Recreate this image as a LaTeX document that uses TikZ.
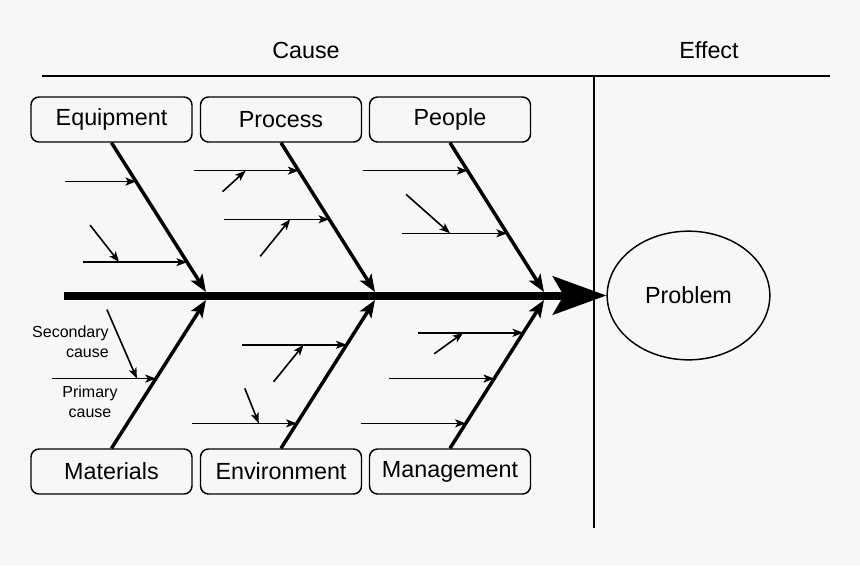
\documentclass[tikz,border=0pt]{standalone}
\usepackage{fontspec}
\setmainfont{Liberation Sans}
\usetikzlibrary{arrows.meta,calc,shapes.geometric}
\definecolor{paper}{HTML}{F7F7F7}
\tikzset{
  category/.style={draw, rounded corners=6pt, line width=1.1pt, minimum width=120.75pt, minimum height=33.75pt, inner sep=0pt, font=\fontsize{17.5}{21}\selectfont},
  heading/.style={font=\fontsize{17.5}{21}\selectfont},
  note/.style={font=\fontsize{12}{15}\selectfont, inner sep=0pt},
  bone/.style={line width=2.6pt, -{Stealth[length=13pt,width=10pt,inset=3pt]}},
  primary/.style={line width=1.2pt, -{Stealth[length=8pt,width=6pt,inset=2pt]}},
  secondary/.style={primary}
}
\begin{document}
\begin{tikzpicture}[x=0.75pt,y=-0.75pt]
\fill[paper] (0,0) rectangle (860,565);
\useasboundingbox (0,0) rectangle (860,565);

\node[heading] (cause) at (306,50) {Cause};
\node[heading] (effect) at (709,50) {Effect};
\draw[line width=1.1pt] (42,76) -- (830,76);
\draw[line width=1.1pt] (594,76) -- (594,528);

\node[draw, ellipse, line width=1.1pt, minimum width=122pt, minimum height=96.5pt, inner sep=0pt, heading] (problem) at (688.5,295.5) {\raisebox{-1.5pt}{Problem}};
\coordinate (tail) at (64,295.5);
\draw[line width=6pt, -{Stealth[length=40pt,width=28.5pt,inset=8pt]}] (tail) -- (problem.west);

\node[category] (equip) at (111.5,119.5) {Equipment};
\node[category] (process) at (281,119.5) {Process};
\node[category] (people) at (450,119.5) {People};
\node[category] (materials) at (111.5,471.5) {Materials};
\node[category] (environ) at (281,471.5) {Environment};
\node[category] (manage) at (450,471.5) {Management};

\coordinate (eqtip) at (206,292);
\coordinate (prtip) at (375,292);
\coordinate (petip) at (544,292);
\coordinate (matip) at (206,300);
\coordinate (entip) at (375,300);
\coordinate (mgtip) at (544,300);

\draw[bone] (equip.south) -- (eqtip);
\draw[bone] (process.south) -- (prtip);
\draw[bone] (people.south) -- (petip);
\draw[bone] (materials.north) -- (matip);
\draw[bone] (environ.north) -- (entip);
\draw[bone] (manage.north) -- (mgtip);

\coordinate (eq1) at ($(equip.south)!.26!(eqtip)$);
\coordinate (eq2) at ($(equip.south)!.80!(eqtip)$);
\draw[primary] ($(eq1)+(-71,0)$) -- (eq1);
\draw[primary] ($(eq2)+(-104,0)$) -- (eq2);
\draw[secondary] ($(eq2)+(-97,-37)$) -- ($(eq2)+(-68,0)$);

\coordinate (pr1) at ($(process.south)!.187!(prtip)$);
\coordinate (pr2) at ($(process.south)!.513!(prtip)$);
\draw[primary] ($(pr1)+(-105,0)$) -- (pr1);
\draw[primary] ($(pr2)+(-105,0)$) -- (pr2);
\draw[secondary] ($(pr1)+(-76,21)$) -- ($(pr1)+(-53,0)$);
\draw[secondary] ($(pr2)+(-69,37)$) -- ($(pr2)+(-39,0)$);

\coordinate (pe1) at ($(people.south)!.187!(petip)$);
\coordinate (pe2) at ($(people.south)!.607!(petip)$);
\draw[primary] ($(pe1)+(-105,0)$) -- (pe1);
\draw[primary] ($(pe2)+(-105,0)$) -- (pe2);
\draw[secondary] ($(pe2)+(-101,-39)$) -- ($(pe2)+(-57,0)$);

\coordinate (ma1) at ($(materials.north)!.47!(matip)$);
\draw[primary] ($(ma1)+(-104,0)$) -- (ma1);
\draw[secondary] ($(ma1)+(-49,-69)$) -- ($(ma1)+(-19,0)$);
\node[note, align=right, anchor=east] (seclabel) at (109,342) {Secondary\\cause};
\node[note, align=center] (primlabel) at (90,402) {Primary\\cause};

\coordinate (en1) at ($(environ.north)!.698!(entip)$);
\coordinate (en2) at ($(environ.north)!.168!(entip)$);
\draw[primary] ($(en1)+(-105,0)$) -- (en1);
\draw[primary] ($(en2)+(-105,0)$) -- (en2);
\draw[secondary] ($(en1)+(-73,37)$) -- ($(en1)+(-43,0)$);
\draw[secondary] ($(en2)+(-52,-35)$) -- ($(en2)+(-38,0)$);

\coordinate (mg1) at ($(manage.north)!.779!(mgtip)$);
\coordinate (mg2) at ($(manage.north)!.47!(mgtip)$);
\coordinate (mg3) at ($(manage.north)!.168!(mgtip)$);
\draw[primary] ($(mg1)+(-105,0)$) -- (mg1);
\draw[primary] ($(mg2)+(-105,0)$) -- (mg2);
\draw[primary] ($(mg3)+(-105,0)$) -- (mg3);
\draw[secondary] ($(mg1)+(-89,21)$) -- ($(mg1)+(-60,0)$);
\end{tikzpicture}
\end{document}
